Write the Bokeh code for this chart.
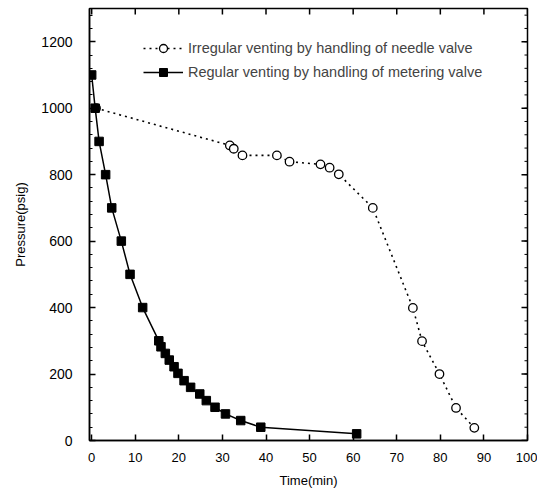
import math
from bokeh.plotting import figure
from bokeh.models import Legend, LegendItem, Range1d, FixedTicker
from bokeh.embed import file_html
from bokeh.resources import INLINE

# Irregular venting by handling of needle valve (open circles, dotted)
irr_time = [1, 31.7, 32.6, 34.6, 42.5, 45.4, 52.5, 54.6, 56.7, 64.5, 73.7, 75.8, 79.8, 83.6, 87.8]
irr_pressure = [1000, 888, 878, 858, 858, 839, 831, 821, 801, 700, 399, 299, 200, 98, 38]

# Regular venting by handling of metering valve (filled squares, solid)
reg_time = [0, 0.8, 1.7, 3.2, 4.6, 6.8, 8.8, 11.7, 15.4, 15.9, 16.9, 17.8, 18.9, 19.8,
            21.2, 22.7, 24.8, 26.3, 28.3, 30.7, 34.2, 38.8, 60.8]
reg_pressure = [1100, 1000, 900, 800, 700, 600, 500, 400, 300, 282, 262, 242, 222, 202,
                180, 160, 140, 120, 100, 80, 60, 40, 20]

x_ticks = [0, 10, 20, 30, 40, 50, 60, 70, 80, 90, 100]
y_ticks = [0, 200, 400, 600, 800, 1000, 1200]
y_minor = list(range(0, 1300, 40))

X_MAX, Y_MAX = 100, 1300
FONT = "Liberation Sans"

p = figure(width=537, height=490, output_backend="svg", toolbar_location=None,
           x_range=Range1d(-0.5, X_MAX), y_range=Range1d(0, Y_MAX),
           x_axis_label="Time(min)", y_axis_label="Pressure(psig)")
p.min_border_left = 89
p.min_border_right = 10
p.min_border_top = 8
p.min_border_bottom = 10
p.grid.visible = False
p.outline_line_color = "black"
p.outline_line_width = 1.5
p.background_fill_color = "white"
p.border_fill_color = "white"

def style_axis(ax, ticks, minor, size):
    ax.ticker = FixedTicker(ticks=ticks, minor_ticks=minor)
    ax.major_tick_in = 6
    ax.major_tick_out = 0
    ax.minor_tick_in = 3
    ax.minor_tick_out = 0
    ax.axis_line_color = "black"
    ax.axis_line_width = 1.5
    ax.major_tick_line_width = 1.5
    ax.major_label_text_font = FONT
    ax.major_label_text_font_size = size
    ax.major_label_text_color = "black"
    ax.axis_label_text_font = FONT
    ax.axis_label_text_font_size = "13px"
    ax.axis_label_text_font_style = "normal"
    ax.axis_label_text_color = "black"

style_axis(p.xaxis[0], x_ticks, [], "13px")
style_axis(p.yaxis[0], y_ticks, y_minor, "14px")
p.xaxis[0].major_label_standoff = 12
p.xaxis[0].axis_label_standoff = 8
p.yaxis[0].major_label_standoff = 17
p.yaxis[0].axis_label_standoff = 10

# inward ticks on the top and right frame edges (clipped to the frame)
p.scatter(x=x_ticks, y=[Y_MAX] * len(x_ticks), marker="dash", angle=math.pi / 2, size=12,
          line_color="black", line_width=1.5)
p.scatter(x=[X_MAX] * len(y_ticks), y=y_ticks, marker="dash", size=12,
          line_color="black", line_width=1.5)
p.scatter(x=[X_MAX] * len(y_minor), y=y_minor, marker="dash", size=6,
          line_color="black", line_width=1)

r_irr_line = p.line(irr_time, irr_pressure, line_color="black", line_width=1.6, line_dash="2 4")
r_irr_pts = p.scatter(irr_time, irr_pressure, marker="circle", size=8.5, fill_color="white",
                      line_color="black", line_width=1.3)
r_reg_line = p.line(reg_time, reg_pressure, line_color="black", line_width=1.5)
r_reg_pts = p.scatter(reg_time, reg_pressure, marker="square", size=8.5, fill_color="black",
                      line_color="black")

legend = Legend(items=[
    LegendItem(label="Irregular venting by handling of needle valve", renderers=[r_irr_line, r_irr_pts]),
    LegendItem(label="Regular venting by handling of metering valve", renderers=[r_reg_line, r_reg_pts]),
], location=(54, 358))
legend.border_line_color = None
legend.background_fill_alpha = 0
legend.label_text_font = FONT
legend.label_text_font_size = "14.5px"
legend.glyph_width = 40
legend.spacing = 4
legend.padding = 4
legend.label_standoff = 5
p.add_layout(legend)

open("out.html", "w").write(file_html(p, INLINE))
